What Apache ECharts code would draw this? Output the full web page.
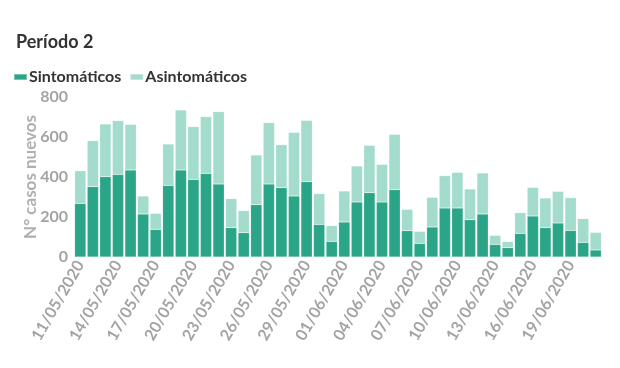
<!DOCTYPE html>
<html><head><meta charset="utf-8">
<script src="https://cdn.jsdelivr.net/npm/echarts@6/dist/echarts.min.js"></script>
<style>html,body{margin:0;padding:0;background:#fff}#c{width:620px;height:368px}</style>
</head><body><div id="c"></div>
<script>
const dates = ["11/05/2020","12/05/2020","13/05/2020","14/05/2020","15/05/2020","16/05/2020","17/05/2020","18/05/2020","19/05/2020","20/05/2020","21/05/2020","22/05/2020","23/05/2020","24/05/2020","25/05/2020","26/05/2020","27/05/2020","28/05/2020","29/05/2020","30/05/2020","31/05/2020","01/06/2020","02/06/2020","03/06/2020","04/06/2020","05/06/2020","06/06/2020","07/06/2020","08/06/2020","09/06/2020","10/06/2020","11/06/2020","12/06/2020","13/06/2020","14/06/2020","15/06/2020","16/06/2020","17/06/2020","18/06/2020","19/06/2020","20/06/2020","21/06/2020"];
const sintomaticos = [268,352,402,413,435,215,138,358,435,388,418,365,147,122,262,365,347,305,377,163,78,175,275,322,275,337,132,68,150,245,245,187,215,63,47,118,205,147,170,133,73,35];
const totales = [431,582,665,682,663,305,218,565,735,652,702,727,292,232,510,672,562,623,683,317,157,330,455,558,463,613,238,128,298,407,423,340,420,108,77,222,348,295,328,297,192,123];
const asintomaticos = totales.map((t,i)=>t - sintomaticos[i]);
const yTicks = [0,200,400,600,800];

const font = 'Lato, "Noto Sans", sans-serif';
const chart = echarts.init(document.getElementById('c'), null, {renderer:'canvas'});
chart.setOption({
  animation:false,
  title:{text:'Período 2', left:11, top:28, textStyle:{fontFamily:font, fontSize:18, fontWeight:'bold', color:'#333'}},
  legend:{left:8, top:64, itemWidth:13, itemHeight:6, itemGap:8, icon:'rect',
    textStyle:{fontFamily:font, fontSize:16, fontWeight:'bold', color:'#333', padding:[0,0,0,-3]},
    data:['Sintomáticos','Asintomáticos']},
  grid:{left:74, right:18, top:97, bottom:111},
  xAxis:{type:'category', data:dates,
    axisLine:{show:false}, axisTick:{show:false},
    axisLabel:{interval:2, rotate:60, fontFamily:font, fontSize:16, fontWeight:'bold', color:'#a3a3a3', margin:5}},
  yAxis:{type:'value', min:0, max:800, interval:200,
    name:'N° casos nuevos', nameLocation:'middle', nameGap:35, nameRotate:90, nameMoveOverlap:false,
    nameTextStyle:{fontFamily:font, fontSize:17, fontWeight:'bold', color:'#b0b0b0'},
    splitLine:{show:false}, axisLine:{show:false}, axisTick:{show:false},
    axisLabel:{fontFamily:font, fontSize:16, fontWeight:'bold', color:'#a3a3a3', margin:6,
      formatter:v=>yTicks.includes(v)?String(v):''}},
  series:[
    {name:'Sintomáticos', type:'bar', stack:'t', data:sintomaticos, barCategoryGap:'10%',
      itemStyle:{color:'#2aa587', borderColor:'rgba(255,255,255,0.35)', borderWidth:0.5}},
    {name:'Asintomáticos', type:'bar', stack:'t', data:asintomaticos, barCategoryGap:'10%',
      itemStyle:{color:'#a3dbcd', borderColor:'rgba(255,255,255,0.35)', borderWidth:0.5}}
  ]
});
</script></body></html>
